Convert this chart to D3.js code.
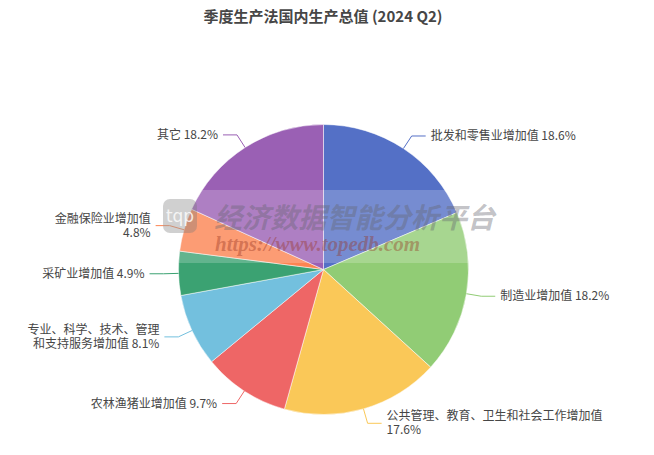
<!DOCTYPE html>
<html><head><meta charset="utf-8">
<script src="https://cdn.jsdelivr.net/npm/d3@7"></script>
<style>body{margin:0;background:#fff}svg{display:block}</style>
</head><body><svg id="c" width="654" height="455"></svg>
<script>
const categories = ["批发和零售业增加值","制造业增加值","公共管理、教育、卫生和社会工作增加值","农林渔猪业增加值","专业、科学、技术、管理和支持服务增加值","采矿业增加值","金融保险业增加值","其它"];
const values = [18.6, 18.2, 17.6, 9.7, 8.1, 4.9, 4.8, 18.2];
const labelLines = [
  ["批发和零售业增加值 18.6%"],
  ["制造业增加值 18.2%"],
  ["公共管理、教育、卫生和社会工作增加值","17.6%"],
  ["农林渔猪业增加值 9.7%"],
  ["专业、科学、技术、管理","和支持服务增加值 8.1%"],
  ["采矿业增加值 4.9%"],
  ["金融保险业增加值","4.8%"],
  ["其它 18.2%"]
];
const colors = ["#5470c6","#91cc75","#fac858","#ee6666","#73c0de","#3ba272","#fc8452","#9a60b4"];
const title = "季度生产法国内生产总值 (2024 Q2)";

const svg = d3.select("#c");
const cx = 323.5, cy = 269.5, R = 145;
const font = "'Noto Sans CJK SC','Noto Sans',sans-serif";

svg.append("text").attr("x", 323).attr("y", 22).attr("text-anchor","middle")
  .attr("font-family", font).attr("font-size", 15).attr("font-weight","bold").attr("fill","#464646").text(title);

const pie = d3.pie().sort(null).value(d => d)(values);
const arc = d3.arc().innerRadius(0).outerRadius(R);
const g = svg.append("g").attr("transform", `translate(${cx},${cy})`);
g.selectAll("path").data(pie).join("path").attr("d", arc)
  .attr("fill", (d,i) => colors[i]).attr("stroke","#fff").attr("stroke-width",0.5);

const len1 = 15, len2 = 14;
pie.forEach((d,i) => {
  const a = (d.startAngle + d.endAngle)/2;
  const s = Math.sin(a), c = -Math.cos(a);
  const p0 = [s*R, c*R], p1 = [s*(R+len1), c*(R+len1)];
  const right = s >= 0;
  const p2 = [p1[0] + (right ? len2 : -len2), p1[1]];
  g.append("polyline").attr("points", [p0,p1,p2].map(p=>p.join(",")).join(" "))
    .attr("fill","none").attr("stroke", colors[i]).attr("stroke-width",1);
  const lines = labelLines[i];
  const t = g.append("text").attr("font-family", font).attr("font-size",12).attr("fill","#464646")
    .attr("text-anchor", right ? "start" : "end");
  const lh = 14;
  lines.forEach((ln,k) => {
    t.append("tspan").attr("x", p2[0] + (right ? 5 : -5))
      .attr("y", p2[1] + (k - (lines.length-1)/2)*lh).attr("dy","0.35em").text(ln);
  });
});

// watermark
const wm = svg.append("g");
wm.append("rect").attr("x",163).attr("y",190).attr("width",333).attr("height",73).attr("fill","#fff").attr("opacity",0.2);
wm.append("rect").attr("x",163).attr("y",199).attr("width",34).attr("height",34).attr("rx",7).attr("fill","rgba(120,120,120,0.35)");
wm.append("text").attr("x",180).attr("y",222).attr("text-anchor","middle").attr("font-family","'DejaVu Sans',sans-serif")
  .attr("font-size",17).attr("fill","rgba(255,255,255,0.8)").text("tqp");
wm.append("text").attr("x",214).attr("y",228).attr("font-family",font).attr("font-size",28).attr("font-weight","bold")
  .attr("font-style","italic").attr("fill","rgba(100,100,110,0.4)").attr("textLength",281).text("经济数据智能分析平台");
wm.append("text").attr("x",215).attr("y",251).attr("font-family","'Liberation Serif',serif").attr("font-size",21).attr("font-weight","bold")
  .attr("font-style","italic").attr("fill","rgba(150,50,30,0.4)").attr("textLength",205).text("https://www.topedb.com");
</script></body></html>
